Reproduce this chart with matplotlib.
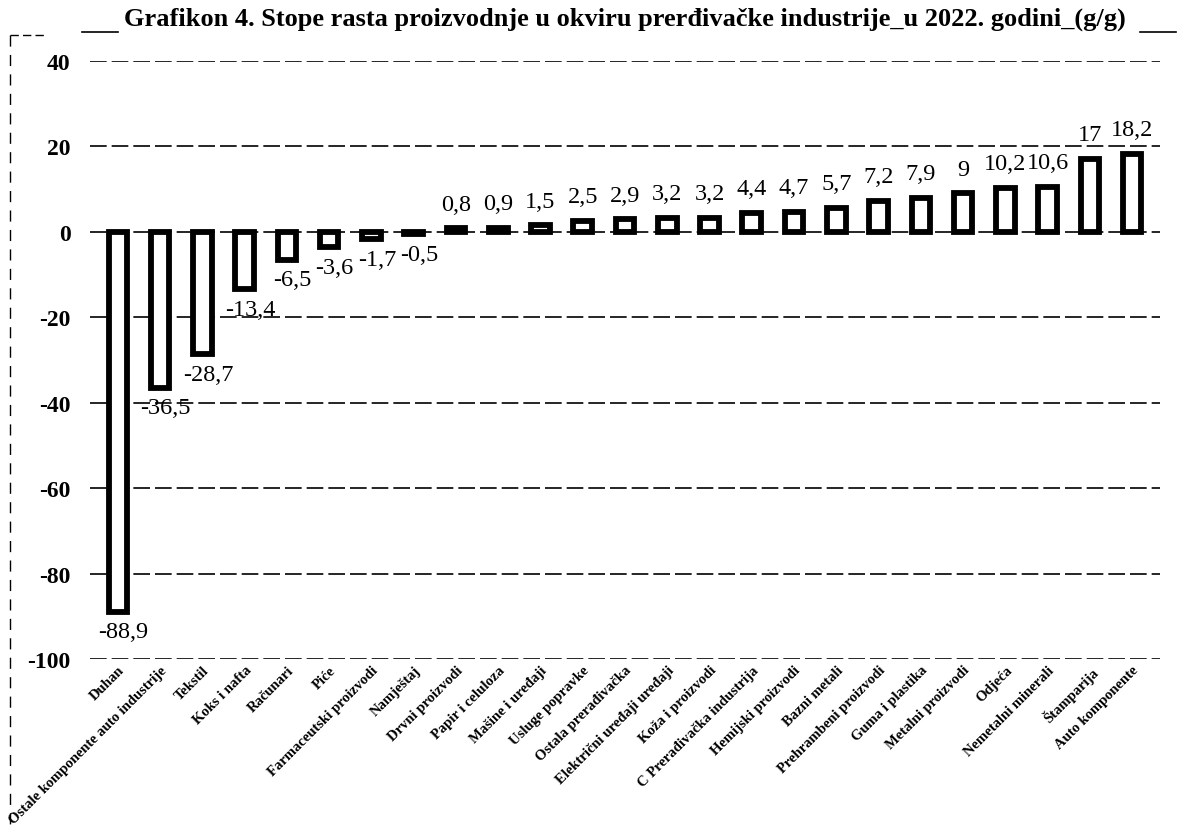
import matplotlib
matplotlib.use("Agg")
import matplotlib.pyplot as plt
from matplotlib.lines import Line2D

categories = [
    "Duhan", "Ostale komponente auto industrije", "Tekstil", "Koks i nafta",
    "Računari", "Piće", "Farmaceutski proizvodi", "Namještaj",
    "Drvni proizvodi", "Papir i celuloza", "Mašine i uređaji", "Usluge popravke",
    "Ostala prerađivačka", "Električni uređaji uređaji", "Koža i proizvodi",
    "C Prerađivačka industrija", "Hemijski proizvodi", "Bazni metali",
    "Prehrambeni proizvodi", "Guma i plastika", "Metalni proizvodi", "Odjeća",
    "Nemetalni minerali", "Štamparija", "Auto komponente",
]
values = [-88.9, -36.5, -28.7, -13.4, -6.5, -3.6, -1.7, -0.5, 0.8, 0.9, 1.5,
          2.5, 2.9, 3.2, 3.2, 4.4, 4.7, 5.7, 7.2, 7.9, 9, 10.2, 10.6, 17, 18.2]
value_labels = ["-88,9", "-36,5", "-28,7", "-13,4", "-6,5", "-3,6", "-1,7",
                "-0,5", "0,8", "0,9", "1,5", "2,5", "2,9", "3,2", "3,2", "4,4",
                "4,7", "5,7", "7,2", "7,9", "9", "10,2", "10,6", "17", "18,2"]
yticks = [40, 20, 0, -20, -40, -60, -80, -100]

SERIF = ["Liberation Serif", "DejaVu Serif"]

fig = plt.figure(figsize=(11.9, 8.28), dpi=100)
ax = fig.add_axes([90 / 1190, 1 - 660 / 828, (1160 - 90) / 1190, (660 - 62) / 828])

x = list(range(len(categories)))
ax.bar(x, values, width=0.44, color="white", edgecolor="black",
       linewidth=4.2, zorder=3)

ax.set_xlim(-0.66, len(categories) - 1 + 0.66)
ax.set_ylim(-100, 40)

for yv in yticks:
    ax.axhline(yv, color="black", lw=1.2, ls=(0, (10, 3)), zorder=1)

for xi, v, lab in zip(x, values, value_labels):
    if v < 0:
        ax.annotate(lab, (xi, v), xytext=(4, -7), textcoords="offset points",
                    ha="center", va="top", fontsize=17.5, family=SERIF,
                    zorder=4)
    else:
        ax.annotate(lab, (xi, v), xytext=(0, 10), textcoords="offset points",
                    ha="center", va="bottom", fontsize=17.5, family=SERIF,
                    zorder=4)

ax.set_yticks(yticks)
ax.set_yticklabels([str(t) for t in yticks], fontsize=17, family=SERIF,
                   fontweight="bold")
ax.tick_params(axis="y", length=0, pad=14)
ax.set_xticks(x)
ax.set_xticklabels(categories, rotation=45, ha="right", va="top",
                   rotation_mode="anchor", fontsize=10.5, family=SERIF,
                   fontweight="bold")
ax.tick_params(axis="x", length=0, pad=3)
for s in ax.spines.values():
    s.set_visible(False)

fig.text(0.525, 0.977,
         "Grafikon 4. Stope rasta proizvodnje u okviru prerđivačke industrije_u 2022. godini_(g/g)",
         ha="center", va="center", fontsize=19, family=SERIF, fontweight="bold")
# title underline strokes and chart frame fragments
fig.add_artist(Line2D([82 / 1190, 118 / 1190], [1 - 33 / 828] * 2,
                      color="black", lw=1.2))
fig.add_artist(Line2D([1140 / 1190, 1176 / 1190], [1 - 33 / 828] * 2,
                      color="black", lw=1.2))
fig.add_artist(Line2D([10 / 1190, 10 / 1190], [1 - 36 / 828, 0.0],
                      color="black", lw=1.0, ls=(0, (8, 6))))
fig.add_artist(Line2D([10 / 1190, 45 / 1190], [1 - 36 / 828] * 2,
                      color="black", lw=1.0, ls=(0, (6, 3))))

fig.savefig("out.png", dpi=100, facecolor="white")
